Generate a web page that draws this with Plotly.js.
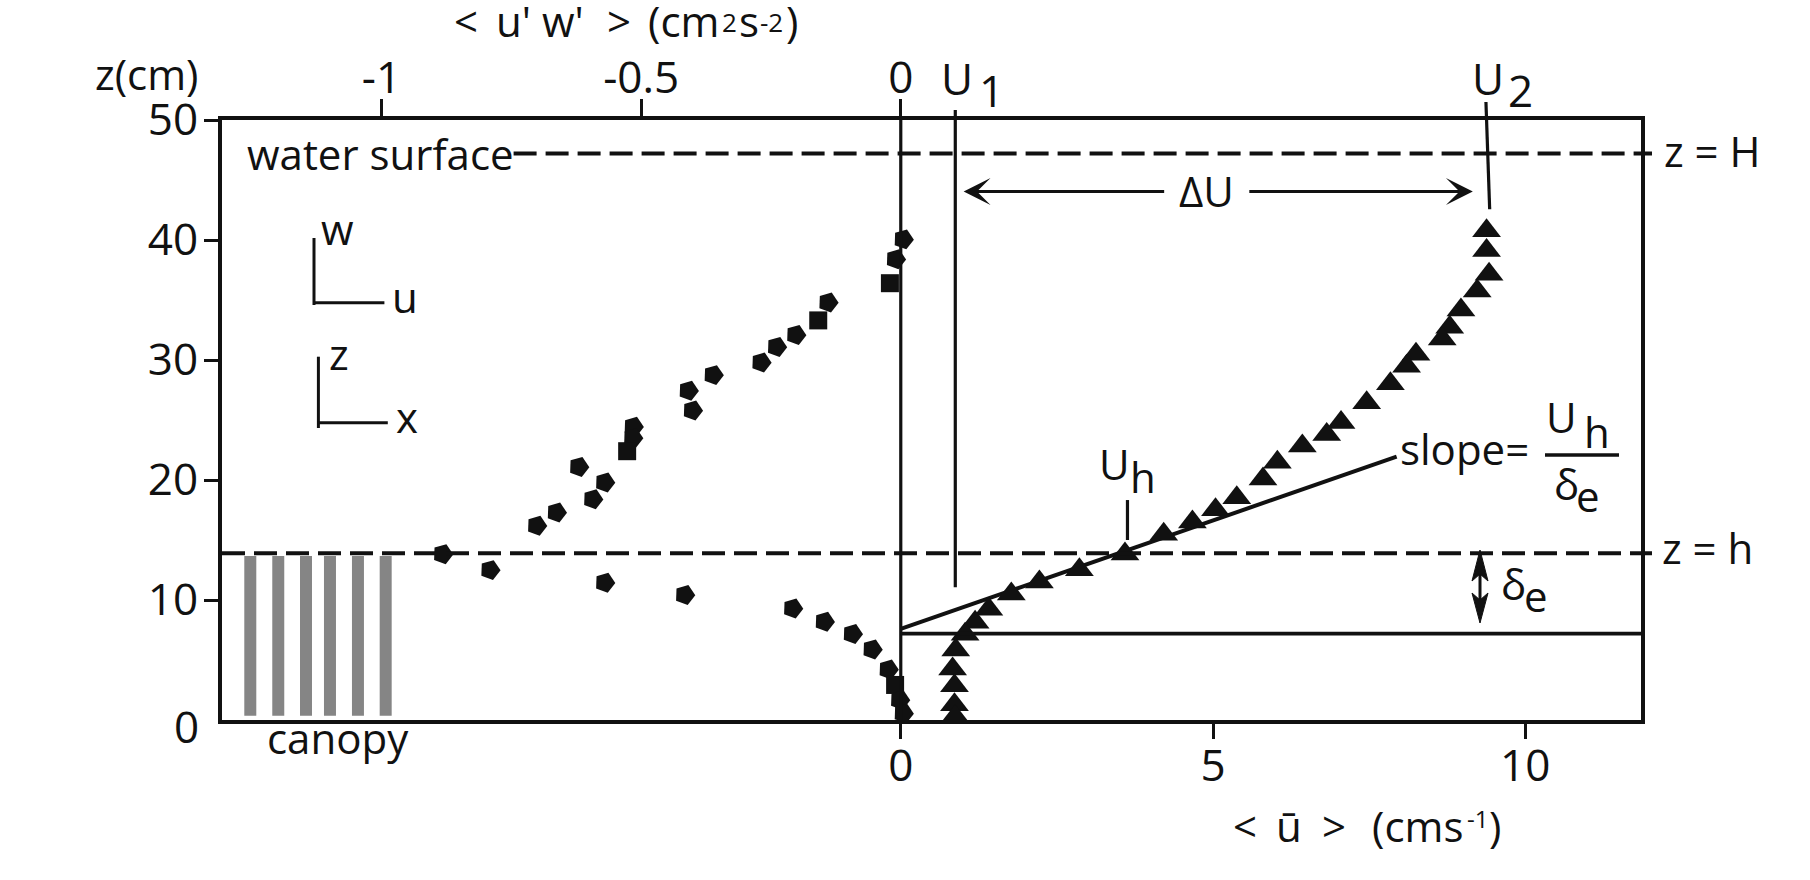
<!DOCTYPE html>
<html><head><meta charset="utf-8">
<script src="https://cdn.plot.ly/plotly-3.0.1.min.js"></script>
<style>html,body{margin:0;padding:0;background:#fff;} #chart{width:1810px;height:880px;}</style>
</head><body><div id="chart"></div>
<script>
// ---------------- data ----------------
// Reynolds stress <u'w'> (cm^2 s^-2) versus height z (cm)
const uwValue = [0.005, -0.010, -0.021, -0.140, -0.159, -0.202, -0.239, -0.269, -0.361, -0.409,
                 -0.401, -0.515, -0.516, -0.527, -0.620, -0.570, -0.593, -0.663, -0.701, -0.882,
                 -0.791, -0.570, -0.416, -0.208, -0.147, -0.093, -0.055, -0.024, -0.011, -0.002, 0.005];
const uwZ     = [40.06, 38.4, 36.4, 34.8, 33.3, 32.1, 31.1, 29.8, 28.75, 27.45,
                 25.8, 24.45, 23.5, 22.4, 21.1, 19.8, 18.4, 17.3, 16.2, 13.83,
                 12.5, 11.44, 10.42, 9.3, 8.2, 7.17, 5.89, 4.22, 2.92, 1.67, 0.56];
const uwSymbol = ['pentagon','pentagon','square','pentagon','square','pentagon','pentagon','pentagon','pentagon','pentagon',
                  'pentagon','pentagon','pentagon','square','pentagon','pentagon','pentagon','pentagon','pentagon','pentagon',
                  'pentagon','pentagon','pentagon','pentagon','pentagon','pentagon','pentagon','pentagon','square','pentagon','pentagon'];
// mean velocity <u> (cm/s) versus height z (cm)
const uValue = [9.38, 9.38, 9.42, 9.23, 8.97, 8.79, 8.67, 8.25, 8.10, 7.84,
                7.46, 7.05, 6.82, 6.43, 6.03, 5.80, 5.38, 5.04, 4.67, 4.21,
                3.59, 2.86, 2.22, 1.77, 1.41, 1.19, 1.03, 0.88, 0.83, 0.86, 0.86, 0.87];
const uZ     = [40.78, 39.12, 37.14, 35.75, 34.17, 32.72, 31.75, 30.47, 29.47, 28.03,
                26.44, 24.8, 23.8, 22.83, 21.47, 20.08, 18.53, 17.53, 16.5, 15.47,
                13.83, 12.53, 11.5, 10.5, 9.22, 8.14, 7.14, 5.83, 4.25, 2.86, 1.28, 0.28];
// canopy stems (positions in velocity-axis units)
const canopyU = [-10.416, -9.968, -9.524, -9.140, -8.692, -8.248];
const canopyTop = [13.67, 13.67, 13.67, 13.67, 13.67, 13.67];
const canopyBase = 0.36;
// slope line at the canopy interface
const slopeU = [0, 7.94];
const slopeZ = [7.6, 21.94];
// key values
const U1 = 0.873, U2top = 9.37, U2bot = 9.43, U2z = 42.56;
const Uh = 3.63, UhTick = [15.0, 18.33];
const zH = 47.2, zh = 13.9, zDeltaBottom = 7.2, U1bottomZ = 11.06;
const dUleft = 1.007, dUright = 9.16, dUz = 44.04;
// axes
const uTicks = [0, 5, 10];
const uwTicks = [-1, -0.5, 0];
const uwTickText = ['-1', '-0.5', '0'];
const zTicks = [10, 20, 30, 40, 50];
const uRange = [-10.869, 11.853];
const uwRange = [-1.3072, 1.4254];
const zRange = [0, 50];

// ---------------- layout helpers ----------------
const L = 222, R = 1641, T = 120, B = 720;
const px = x => (x - L) / (R - L);
const py = y => (B - y) / (B - T);
const zp = z => (z - zRange[0]) / (zRange[1] - zRange[0]);
const FONT = 'Open Sans, Noto Sans, sans-serif';
const INK = '#111';
const symbolAngle = {pentagon: 20, square: 0};

function txt(text, x, y, size, xanchor) {
  return {text: text, xref: 'paper', yref: 'paper', x: px(x), y: py(y), showarrow: false,
          xanchor: xanchor || 'center', yanchor: 'middle',
          font: {family: FONT, size: size || 42, color: INK}};
}
function seg(x0, y0, x1, y1, w, dash) {
  return {type: 'line', xref: 'paper', yref: 'paper', x0: px(x0), y0: py(y0), x1: px(x1), y1: py(y1),
          line: {color: INK, width: w || 3, dash: dash || 'solid'}};
}
function poly(pts) {
  return {type: 'path', xref: 'paper', yref: 'paper', fillcolor: INK, line: {color: INK, width: 1},
          path: 'M' + pts.map(p => px(p[0]) + ',' + py(p[1])).join(' L') + ' Z'};
}

const traces = [
  {type: 'bar', x: canopyU, y: canopyTop.map(t => t - canopyBase), base: canopyBase, width: 0.192,
   marker: {color: '#858585', line: {width: 0}}, xaxis: 'x', yaxis: 'y', hoverinfo: 'skip'},
  {type: 'scatter', mode: 'lines', x: slopeU, y: slopeZ, xaxis: 'x', yaxis: 'y',
   line: {color: INK, width: 4}, hoverinfo: 'skip'},
  {type: 'scatter', mode: 'markers', x: uwValue, y: uwZ, xaxis: 'x2', yaxis: 'y',
   marker: {symbol: uwSymbol, size: uwSymbol.map(s => s === 'square' ? 18 : 21), color: INK, opacity: 1,
            angle: uwSymbol.map(s => symbolAngle[s]), line: {width: 0}}},
  {type: 'scatter', mode: 'markers', x: uValue, y: uZ, xaxis: 'x', yaxis: 'y',
   marker: {symbol: 'triangle-up', size: 25, color: INK, opacity: 1, line: {width: 0}}}
];

const axisCommon = {showgrid: false, zeroline: false, ticks: 'outside', tickwidth: 3, tickcolor: INK,
                    linecolor: INK, linewidth: 4, tickfont: {family: FONT, size: 44, color: INK}};

const shapes = [
  // u = 0 vertical reference
  {type: 'line', xref: 'x', yref: 'paper', x0: 0, x1: 0, y0: 0, y1: 1, line: {color: INK, width: 3.2}},
  // U1 line
  {type: 'line', xref: 'x', yref: 'paper', x0: U1, x1: U1, y0: zp(U1bottomZ), y1: py(110), line: {color: INK, width: 3.2}},
  // U2 line
  {type: 'line', xref: 'x', yref: 'paper', x0: U2top, x1: U2bot, y0: py(102), y1: zp(U2z), line: {color: INK, width: 3.2}},
  // water surface z = H
  {type: 'line', xref: 'paper', yref: 'y', x0: px(513.6), x1: px(1652), y0: zH, y1: zH, line: {color: INK, width: 4, dash: '23px,9px'}},
  // canopy top z = h
  {type: 'line', xref: 'paper', yref: 'y', x0: 0, x1: px(1652), y0: zh, y1: zh, line: {color: INK, width: 4, dash: '23px,9px'}},
  // bottom of shear layer
  {type: 'line', xref: 'x', yref: 'y', x0: 0, x1: uRange[1], y0: zDeltaBottom, y1: zDeltaBottom, line: {color: INK, width: 3.6}},
  // Uh tick
  {type: 'line', xref: 'x', yref: 'y', x0: Uh, x1: Uh, y0: UhTick[0], y1: UhTick[1], line: {color: INK, width: 3.2}},
  // coordinate sketches
  seg(314, 238, 314, 305), seg(313, 302.7, 384.4, 302.7),
  seg(318.4, 356.7, 318.4, 428), seg(317, 422.7, 387.8, 422.7),
  // fraction bar
  seg(1545, 455, 1619, 455, 3.6),
  // delta_e double arrow
  seg(1480, 570, 1480, 604, 3),
  poly([[1480, 550], [1472, 581], [1480, 574], [1488, 581]]),
  poly([[1480, 623], [1472, 593], [1480, 600], [1488, 593]])
];

const annotations = [
  txt('z(cm)', 146.5, 73.7),
  // top axis title  < u'w' >(cm^2 s^-2)
  txt('&lt;', 466, 21), txt('u\'', 513, 21), txt('w\'', 563, 21), txt('&gt;', 618.5, 21),
  txt('(cm', 721, 21, 42, 'right'), txt('2', 729, 22, 26), txt('s', 749, 21), txt('-2', 771, 22, 26),
  txt(')', 792, 21),
  // bottom axis title  < u > (cm s^-1)
  txt('&lt;', 1245, 825), txt('\u016b', 1289, 825), txt('&gt;', 1334, 825),
  txt('(cms', 1465, 825, 42, 'right'), txt('-1', 1477.5, 818, 24), txt(')', 1495, 825),
  txt('water surface', 244.7, 153, 42, 'left'),
  txt('z = H', 1662, 150.7, 42, 'left'),
  txt('z = h', 1660, 547, 42, 'left'),
  txt('canopy', 338, 737),
  txt('w', 337, 228.7), txt('u', 405, 296.7), txt('z', 339, 353.7), txt('x', 407, 416.7),
  txt('U', 957, 78, 44), txt('1', 991, 90, 44),
  txt('U', 1488, 78, 44), txt('2', 1520.5, 90, 44),
  txt('\u0394U', 1206, 190),
  txt('U', 1114.5, 463.7), txt('h', 1143, 476.7),
  txt('slope=', 1398, 448.7, 42, 'left'),
  txt('U', 1561.5, 416.7), txt('h', 1596.7, 431.7),
  txt('\u03b4', 1566, 483.7), txt('e', 1587.5, 495.4),
  txt('\u03b4', 1513, 583.7), txt('e', 1536, 595.4),
  txt('0', 186, 726, 44),
  // Delta U arrows
  {xref: 'x', yref: 'y', x: dUleft, y: dUz, ax: 202, ay: 0, text: '', showarrow: true,
   arrowhead: 3, arrowsize: 1.4, arrowwidth: 3.2, arrowcolor: INK, standoff: 0, startstandoff: 0},
  {xref: 'x', yref: 'y', x: dUright, y: dUz, ax: -225, ay: 0, text: '', showarrow: true,
   arrowhead: 3, arrowsize: 1.4, arrowwidth: 3.2, arrowcolor: INK, standoff: 0, startstandoff: 0}
];

const layout = {
  width: 1810, height: 880,
  margin: {l: L, r: 1810 - R, t: T, b: 880 - B, pad: 0},
  paper_bgcolor: '#fff', plot_bgcolor: '#fff', showlegend: false,
  font: {family: FONT, size: 42, color: INK},
  xaxis: Object.assign({}, axisCommon, {range: uRange, tickvals: uTicks, ticktext: uTicks.map(String),
          ticklen: 15, showline: true, mirror: false, side: 'bottom', ticklabelstandoff: -11}),
  xaxis2: Object.assign({}, axisCommon, {range: uwRange, tickvals: uwTicks, ticktext: uwTickText,
          ticklen: 17, showline: true, overlaying: 'x', side: 'top', anchor: 'y', ticklabelstandoff: -12}),
  yaxis: Object.assign({}, axisCommon, {range: zRange, tickvals: zTicks, ticktext: zTicks.map(String),
          ticklen: 14, showline: true, mirror: true, ticklabelstandoff: -3}),
  shapes: shapes,
  annotations: annotations
};

Plotly.newPlot('chart', traces, layout, {displayModeBar: false, staticPlot: true});
</script></body></html>
